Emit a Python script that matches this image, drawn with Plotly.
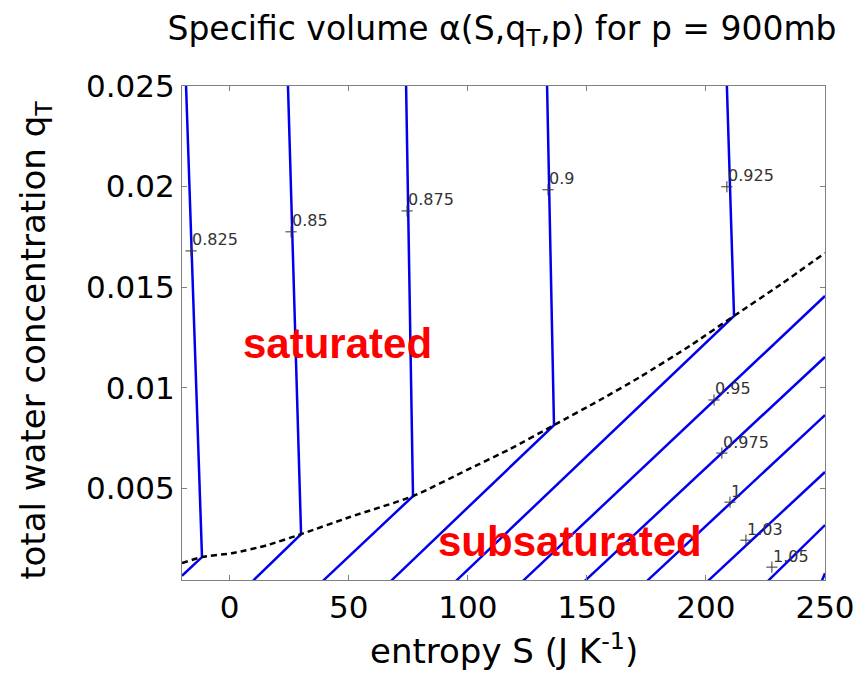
import plotly.graph_objects as go

# ---------------- data ----------------
# x: entropy S (J K^-1), y: total water concentration q_T
x_range = [-20, 250]
y_range = [0.00044, 0.025]

x_tick_vals = [0, 50, 100, 150, 200, 250]
x_tick_text = ["0", "50", "100", "150", "200", "250"]
y_tick_vals = [0.005, 0.01, 0.015, 0.02, 0.025]
y_tick_text = ["0.005", "0.01", "0.015", "0.02", "0.025"]

# saturation curve (dashed)
sat_x = [-20.0, -11.6, 1.4, 15.7, 30.0, 50.5, 77.0, 99.7, 117.7, 136.2, 155.5,
         172.3, 193.3, 211.8, 231.1, 250.0]
sat_y = [0.00128, 0.00158, 0.00178, 0.00217, 0.00272, 0.00357, 0.00461, 0.00591,
         0.00695, 0.00814, 0.00939, 0.01053, 0.01208, 0.01357, 0.01511, 0.0167]

# contour lines of specific volume alpha
contour_levels = [0.825, 0.85, 0.875, 0.9, 0.925, 0.95, 0.975, 1.0, 1.025, 1.05, 1.075]
contour_x = [
    [-18.3, -11.6, -20.0],
    [24.5, 30.0, 9.8],
    [74.1, 77.0, 39.2],
    [133.3, 136.2, 67.8],
    [208.8, 211.8, 95.1],
    [123.2, 250.0],
    [149.2, 250.0],
    [175.3, 250.0],
    [200.9, 250.0],
    [226.1, 250.0],
    [248.7, 250.0],
]
contour_y = [
    [0.025, 0.00158, 0.00065],
    [0.025, 0.00272, 0.0004],
    [0.025, 0.00461, 0.0004],
    [0.025, 0.00814, 0.0004],
    [0.025, 0.01357, 0.0004],
    [0.0004, 0.01456],
    [0.0004, 0.01153],
    [0.0004, 0.00864],
    [0.0004, 0.00581],
    [0.0004, 0.00317],
    [0.0004, 0.00078],
]

# contour labels (clabel style, '+' marker with text)
label_text = ["0.825", "0.85", "0.875", "0.9", "0.925", "0.95", "0.975", "1", "1.03", "1.05"]
label_x = [-16.2, 25.8, 74.5, 133.7, 208.8, 203.4, 206.7, 210.1, 216.8, 227.7]
label_y = [0.0168, 0.01775, 0.01879, 0.01984, 0.01999, 0.00939, 0.00675, 0.00431, 0.00242, 0.00108]

region_text = ["saturated", "subsaturated"]
region_x = [45.1, 142.9]
region_y = [0.01222, 0.00237]

# ---------------- figure ----------------
FONT = "DejaVu Sans, Verdana, sans-serif"
BOLD = "Liberation Sans, Arial, Helvetica, sans-serif"
fig = go.Figure()

for lvl, xs, ys in zip(contour_levels, contour_x, contour_y):
    fig.add_trace(go.Scatter(x=xs, y=ys, mode="lines", name=str(lvl),
                             line=dict(color="#0000ee", width=2.5),
                             showlegend=False, hoverinfo="skip"))

fig.add_trace(go.Scatter(x=sat_x, y=sat_y, mode="lines", line_shape="spline",
                         line=dict(color="black", width=2.5, dash="6px,4px", smoothing=0.6),
                         showlegend=False, hoverinfo="skip"))

fig.add_trace(go.Scatter(x=label_x, y=label_y, mode="markers",
                         marker=dict(symbol="cross-thin", size=8,
                                     line=dict(width=1, color="#333333")),
                         showlegend=False, hoverinfo="skip"))

annotations = []
for t, x, y in zip(label_text, label_x, label_y):
    annotations.append(dict(x=x, y=y, xref="x", yref="y", text=t, showarrow=False,
                            xanchor="left", yanchor="middle", xshift=-1, yshift=11,
                            font=dict(family=FONT, size=16, color="#333333")))
for t, x, y in zip(region_text, region_x, region_y):
    annotations.append(dict(x=x, y=y, xref="x", yref="y", text="<b>" + t + "</b>",
                            showarrow=False, xanchor="center", yanchor="middle",
                            font=dict(family=BOLD, size=42, color="#ff0000")))

# axis titles
annotations.append(dict(x=0.5, y=-0.14, xref="paper", yref="paper",
                        text="entropy S (J K<sup>-1</sup>)", showarrow=False,
                        xanchor="center", yanchor="middle",
                        font=dict(family=FONT, size=34, color="black")))
annotations.append(dict(x=-0.228, y=0.485, xref="paper", yref="paper",
                        text="total water concentration q<sub>T</sub>", showarrow=False,
                        textangle=-90, xanchor="center", yanchor="middle",
                        font=dict(family=FONT, size=34, color="black")))

axis_common = dict(showline=True, linecolor="#808080", linewidth=1, mirror="ticks",
                   ticks="inside", ticklen=5, tickcolor="#808080", tickwidth=1,
                   showgrid=False, zeroline=False,
                   tickfont=dict(family=FONT, size=31, color="black"))

fig.update_layout(
    width=867, height=675,
    margin=dict(l=182, r=42, t=86, b=95),
    plot_bgcolor="white", paper_bgcolor="white",
    title=dict(text="Specific volume \u03b1(S,q<sub>T</sub>,p) for p = 900mb",
               x=502 / 867, xref="container", xanchor="center",
               y=1 - 28 / 675, yref="container", yanchor="middle",
               font=dict(family=FONT, size=33, color="black")),
    xaxis=dict(range=x_range, tickvals=x_tick_vals, ticktext=x_tick_text, **axis_common),
    yaxis=dict(range=y_range, tickvals=y_tick_vals, ticktext=y_tick_text, **axis_common),
    annotations=annotations,
)

fig.write_html("out.html")
